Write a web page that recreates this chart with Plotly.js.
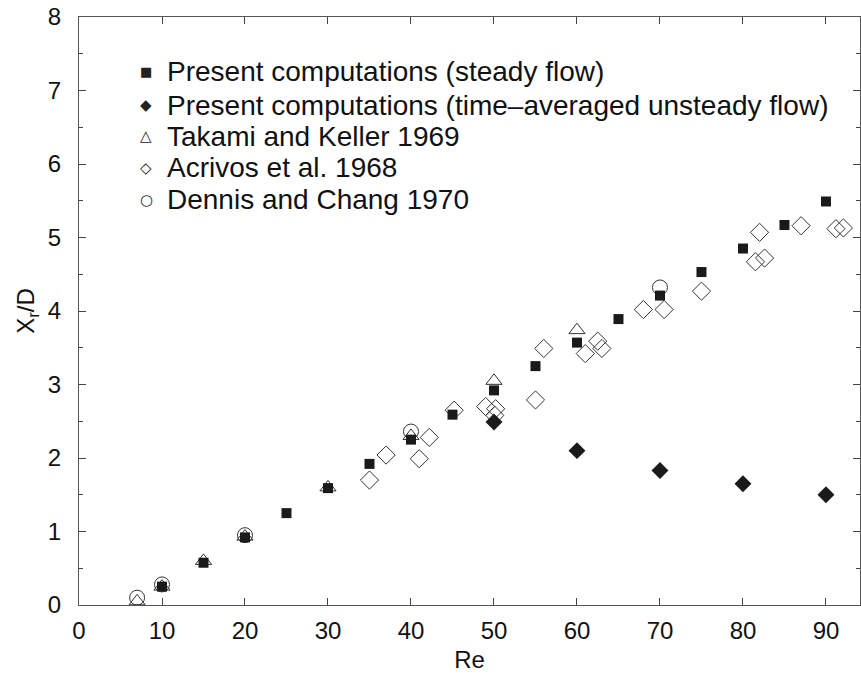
<!DOCTYPE html>
<html>
<head>
<meta charset="utf-8">
<script src="https://cdn.plot.ly/plotly-3.0.1.min.js"></script>
<style>html,body{margin:0;padding:0;background:#fff;}#chart{width:861px;height:679px;}</style>
</head>
<body>
<div id="chart"></div>
<script>
// Data
const steadyRe = [10, 15, 20, 25, 30, 35, 40, 45, 50, 55, 60, 65, 70, 75, 80, 85, 90];
const steadyX  = [0.25, 0.575, 0.92, 1.25, 1.59, 1.92, 2.25, 2.59, 2.92, 3.25, 3.57, 3.89, 4.21, 4.53, 4.85, 5.17, 5.49];

const unsteadyRe = [50, 60, 70, 80, 90];
const unsteadyX  = [2.49, 2.10, 1.83, 1.65, 1.50];

const takamiRe = [7, 10, 15, 20, 30, 40, 50, 60];
const takamiX  = [0.05, 0.25, 0.60, 0.93, 1.60, 2.30, 3.05, 3.74];

const acrivosRe = [35, 37, 41, 42.2, 45.2, 49, 50.2, 50.1, 55, 56, 61, 62.5, 63, 68, 70.5, 75, 81.5, 82, 82.6, 87, 91.2, 92.1];
const acrivosX  = [1.70, 2.04, 1.99, 2.28, 2.65, 2.70, 2.67, 2.58, 2.79, 3.49, 3.42, 3.59, 3.49, 4.02, 4.02, 4.27, 4.67, 5.07, 4.72, 5.16, 5.12, 5.13];

const dennisRe = [7, 10, 20, 40, 70];
const dennisX  = [0.10, 0.28, 0.95, 2.36, 4.32];

const seriesNames = [
  "Present computations (steady flow)",
  "Present computations (time\u2013averaged unsteady flow)",
  "Takami and Keller 1969",
  "Acrivos et al. 1968",
  "Dennis and Chang 1970"
];
const legendGlyphs = ["\u25A0", "\u25C6", "\u25B3", "\u25C7", "\u25CB"];

const FONT = "'Liberation Sans', Arial, Helvetica, sans-serif";
const ink = "#1a1a1a";

const traces = [
  {x: dennisRe, y: dennisX, name: seriesNames[4], mode: "markers", type: "scatter",
   marker: {symbol: "circle-open", size: 15, color: "#333", line: {width: 1, color: "#333"}}},
  {x: takamiRe, y: takamiX, name: seriesNames[2], mode: "markers", type: "scatter",
   marker: {symbol: "triangle-up-open", size: 14, color: "#333", line: {width: 1, color: "#333"}}},
  {x: acrivosRe, y: acrivosX, name: seriesNames[3], mode: "markers", type: "scatter",
   marker: {symbol: "diamond-open", size: 14, color: "#333", line: {width: 1, color: "#333"}}},
  {x: steadyRe, y: steadyX, name: seriesNames[0], mode: "markers", type: "scatter",
   marker: {symbol: "square", size: 10, color: ink, line: {width: 0}}},
  {x: unsteadyRe, y: unsteadyX, name: seriesNames[1], mode: "markers", type: "scatter",
   marker: {symbol: "diamond", size: 13, color: ink, line: {width: 0}}}
];

// Legend drawn as text rows (tight spacing like the reference)
const rowY = [0.9065, 0.8503, 0.7968, 0.7432, 0.6888];
const glyphSize = [13, 15, 15, 15, 15];
const annotations = [];
seriesNames.forEach((name, i) => {
  annotations.push({
    xref: "paper", yref: "paper", x: 0.0858, y: rowY[i],
    xanchor: "center", yanchor: "middle", showarrow: false,
    text: legendGlyphs[i],
    font: {family: "'DejaVu Sans', sans-serif", size: glyphSize[i], color: "#222"}
  });
  annotations.push({
    xref: "paper", yref: "paper", x: 0.1095, y: rowY[i],
    xanchor: "left", yanchor: "middle", showarrow: false,
    text: name,
    font: {family: FONT, size: 28, color: "#111"}
  });
});

const axisCommon = {
  showgrid: false, zeroline: false,
  showline: true, linecolor: "#555", linewidth: 1, mirror: "allticks",
  ticks: "inside", ticklen: 7, tickcolor: "#444", tickwidth: 1,
  tickfont: {family: FONT, size: 24, color: "#111"}
};

const layout = {
  width: 861, height: 679,
  margin: {l: 79, r: 1, t: 17, b: 74},
  paper_bgcolor: "#fff", plot_bgcolor: "#fff",
  font: {family: FONT, color: "#111"},
  showlegend: false,
  annotations: annotations,
  xaxis: Object.assign({}, axisCommon, {
    range: [0, 94.1], dtick: 10, tick0: 0, ticklabelstandoff: 4,
    title: {text: "Re", font: {family: FONT, size: 24, color: "#111"}, standoff: 8}
  }),
  yaxis: Object.assign({}, axisCommon, {
    range: [0, 8], dtick: 1, tick0: 0, ticklabelstandoff: 12,
    minor: {dtick: 0.5, ticks: "inside", ticklen: 4, tickcolor: "#444"},
    title: {text: "X<sub>r</sub>/D", font: {family: FONT, size: 24, color: "#111"}, standoff: 6}
  })
};

Plotly.newPlot("chart", traces, layout, {displayModeBar: false, staticPlot: true});
</script>
</body>
</html>
